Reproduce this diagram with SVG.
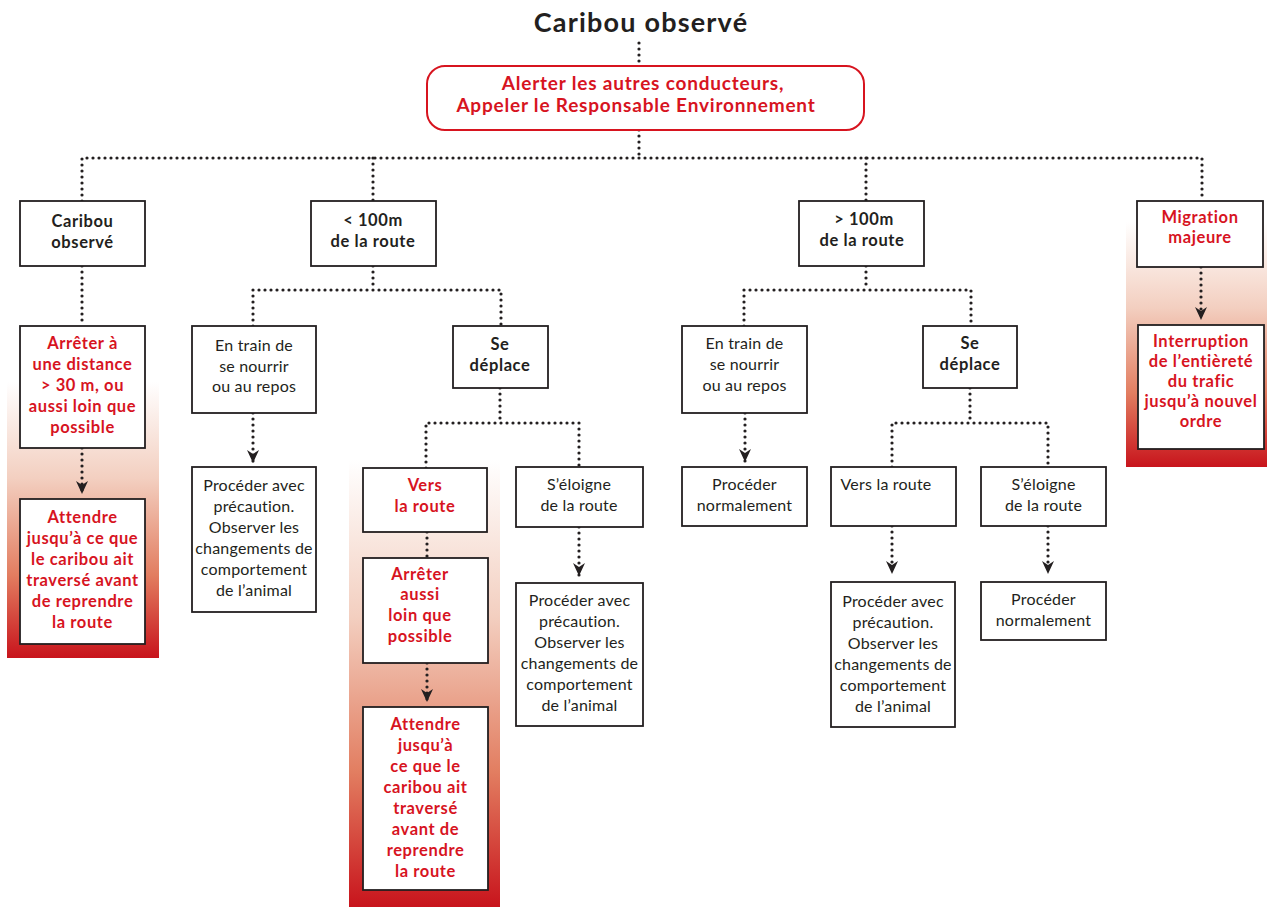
<svg xmlns="http://www.w3.org/2000/svg" width="1267" height="907" viewBox="0 0 1267 907">
<style>
.box{fill:#fff;stroke:#231f20;stroke-width:1.8}
.rbox{fill:#fff;stroke:#d7141f;stroke-width:2}
.t{font-family:Lato,"Open Sans","DejaVu Sans",sans-serif;font-size:16px;letter-spacing:0.2px;fill:#231f20;text-anchor:middle}
.b{font-weight:bold;font-size:16.5px;letter-spacing:0.6px}
.r{fill:#d7141f;font-weight:bold;font-size:16.5px;letter-spacing:0.6px}
.big{font-size:19px;letter-spacing:0.8px}
.dot{fill:none;stroke:#231f20;stroke-width:3.2;stroke-dasharray:0 6;stroke-linecap:round}
.arr{marker-end:url(#ah)}
</style>
<defs>
<linearGradient id="g" x1="0" y1="0" x2="0" y2="1">
<stop offset="0" stop-color="#ffffff"/>
<stop offset="0.35" stop-color="#f3cfc0"/>
<stop offset="0.7" stop-color="#e27d60"/>
<stop offset="1" stop-color="#c8141c"/>
</linearGradient>
<marker id="ah" markerUnits="userSpaceOnUse" viewBox="-1 -7 15 14" markerWidth="15" markerHeight="14" refX="13" refY="0" orient="auto">
<path d="M0,-6 L4,0 L0,6 L13,0 Z" fill="#231f20"/>
</marker>
</defs>

<g id="backgrounds">
<rect x="7" y="382" width="152" height="276" fill="url(#g)"/>
<rect x="349" y="460" width="151" height="447" fill="url(#g)"/>
<rect x="1126" y="222" width="141" height="245" fill="url(#g)"/>
</g>

<g id="connectors">
<path class="dot" d="M639,43 V66"/>
<path class="dot" d="M639,130 V158"/>
<path class="dot" d="M82,201 V158 H1202 V201"/>
<path class="dot" d="M373,158 V201"/>
<path class="dot" d="M866,158 V201"/>
<path class="dot" d="M82,266 V322"/>
<path class="dot arr" d="M82,448 V494"/>
<path class="dot arr" d="M1201,267 V320"/>
<path class="dot" d="M373,266 V290"/>
<path class="dot" d="M253,326 V290 H501 V326"/>
<path class="dot arr" d="M253,413 V463"/>
<path class="dot" d="M500,388 V423"/>
<path class="dot" d="M426,468 V423 H579 V467"/>
<path class="dot arr" d="M579,527 V576"/>
<path class="dot" d="M427,532 V558"/>
<path class="dot arr" d="M427,663 V702"/>
<path class="dot" d="M866,266 V290"/>
<path class="dot" d="M744,326 V290 H971 V326"/>
<path class="dot arr" d="M745,413 V462"/>
<path class="dot" d="M970,388 V423"/>
<path class="dot" d="M892,467 V423 H1048 V467"/>
<path class="dot arr" d="M892,526 V574"/>
<path class="dot arr" d="M1048,526 V574"/>
</g>

<g id="title">
<text class="t b" x="641" y="32" style="font-size:27px;letter-spacing:1.2px">Caribou observé</text>
</g>

<g id="alert">
<rect class="rbox" x="427" y="66" width="437" height="64" rx="18"/>
<text class="t r big" x="643" y="90">Alerter les autres conducteurs,</text>
<text class="t r big" x="636" y="112">Appeler le Responsable Environnement</text>
</g>

<g id="n-caribou">
<rect class="box" x="20" y="201" width="125" height="65"/>
<text class="t b" x="82.5" y="227">Caribou</text>
<text class="t b" x="82.5" y="248">observé</text>
</g>

<g id="n-arreter30">
<rect class="box" x="20" y="326" width="125" height="122"/>
<text class="t r" x="82.5" y="349">Arrêter à</text>
<text class="t r" x="82.5" y="370">une distance</text>
<text class="t r" x="82.5" y="391">&gt; 30 m, ou</text>
<text class="t r" x="82.5" y="412">aussi loin que</text>
<text class="t r" x="82.5" y="433">possible</text>
</g>

<g id="n-attendre1">
<rect class="box" x="20" y="499" width="125" height="145"/>
<text class="t r" x="82.5" y="523">Attendre</text>
<text class="t r" x="82.5" y="544">jusqu’à ce que</text>
<text class="t r" x="82.5" y="565">le caribou ait</text>
<text class="t r" x="82.5" y="586">traversé avant</text>
<text class="t r" x="82.5" y="607">de reprendre</text>
<text class="t r" x="82.5" y="628">la route</text>
</g>

<g id="n-lt100">
<rect class="box" x="311" y="201" width="125" height="65"/>
<text class="t b" x="373" y="226">&lt; 100m</text>
<text class="t b" x="373" y="247">de la route</text>
</g>

<g id="n-nourrir1">
<rect class="box" x="192" y="326" width="124" height="87"/>
<text class="t" x="254" y="351">En train de</text>
<text class="t" x="254" y="372">se nourrir</text>
<text class="t" x="254" y="392">ou au repos</text>
</g>

<g id="n-deplace1">
<rect class="box" x="453" y="326" width="95" height="62"/>
<text class="t b" x="500" y="350">Se</text>
<text class="t b" x="500" y="371">déplace</text>
</g>

<g id="n-precaution1">
<rect class="box" x="192" y="467" width="124" height="145"/>
<text class="t" x="254" y="491">Procéder avec</text>
<text class="t" x="254" y="512">précaution.</text>
<text class="t" x="254" y="533">Observer les</text>
<text class="t" x="254" y="554">changements de</text>
<text class="t" x="254" y="575">comportement</text>
<text class="t" x="254" y="596">de l’animal</text>
</g>

<g id="n-vers1">
<rect class="box" x="363" y="468" width="124" height="64"/>
<text class="t r" x="425" y="491">Vers</text>
<text class="t r" x="425" y="512">la route</text>
</g>

<g id="n-eloigne1">
<rect class="box" x="516" y="467" width="127" height="60"/>
<text class="t" x="579" y="490">S’éloigne</text>
<text class="t" x="579" y="511">de la route</text>
</g>

<g id="n-arreter2">
<rect class="box" x="363" y="558" width="125" height="105"/>
<text class="t r" x="420" y="580">Arrêter</text>
<text class="t r" x="420" y="600">aussi</text>
<text class="t r" x="420" y="621">loin que</text>
<text class="t r" x="420" y="642">possible</text>
</g>

<g id="n-attendre2">
<rect class="box" x="363" y="707" width="125" height="183"/>
<text class="t r" x="425.5" y="730">Attendre</text>
<text class="t r" x="425.5" y="751">jusqu’à</text>
<text class="t r" x="425.5" y="772">ce que le</text>
<text class="t r" x="425.5" y="793">caribou ait</text>
<text class="t r" x="425.5" y="814">traversé</text>
<text class="t r" x="425.5" y="835">avant de</text>
<text class="t r" x="425.5" y="856">reprendre</text>
<text class="t r" x="425.5" y="877">la route</text>
</g>

<g id="n-precaution2">
<rect class="box" x="516" y="583" width="127" height="143"/>
<text class="t" x="579.5" y="606">Procéder avec</text>
<text class="t" x="579.5" y="627">précaution.</text>
<text class="t" x="579.5" y="648">Observer les</text>
<text class="t" x="579.5" y="669">changements de</text>
<text class="t" x="579.5" y="690">comportement</text>
<text class="t" x="579.5" y="711">de l’animal</text>
</g>

<g id="n-gt100">
<rect class="box" x="799" y="201" width="125" height="65"/>
<text class="t b" x="864" y="225">&gt; 100m</text>
<text class="t b" x="862" y="246">de la route</text>
</g>

<g id="n-nourrir2">
<rect class="box" x="682" y="326" width="125" height="87"/>
<text class="t" x="744.5" y="349">En train de</text>
<text class="t" x="744.5" y="370">se nourrir</text>
<text class="t" x="744.5" y="391">ou au repos</text>
</g>

<g id="n-deplace2">
<rect class="box" x="923" y="326" width="94" height="62"/>
<text class="t b" x="970" y="349">Se</text>
<text class="t b" x="970" y="370">déplace</text>
</g>

<g id="n-normal1">
<rect class="box" x="682" y="467" width="125" height="59"/>
<text class="t" x="744.5" y="490">Procéder</text>
<text class="t" x="744.5" y="511">normalement</text>
</g>

<g id="n-vers2">
<rect class="box" x="831" y="467" width="125" height="59"/>
<text class="t" x="886" y="490">Vers la route</text>
</g>

<g id="n-eloigne2">
<rect class="box" x="981" y="467" width="125" height="59"/>
<text class="t" x="1043.5" y="490">S’éloigne</text>
<text class="t" x="1043.5" y="511">de la route</text>
</g>

<g id="n-precaution3">
<rect class="box" x="831" y="582" width="124" height="145"/>
<text class="t" x="893" y="607">Procéder avec</text>
<text class="t" x="893" y="628">précaution.</text>
<text class="t" x="893" y="649">Observer les</text>
<text class="t" x="893" y="670">changements de</text>
<text class="t" x="893" y="691">comportement</text>
<text class="t" x="893" y="712">de l’animal</text>
</g>

<g id="n-normal2">
<rect class="box" x="981" y="582" width="125" height="58"/>
<text class="t" x="1043.5" y="605">Procéder</text>
<text class="t" x="1043.5" y="626">normalement</text>
</g>

<g id="n-migration">
<rect class="box" x="1137" y="201" width="126" height="66"/>
<text class="t r" x="1200" y="223">Migration</text>
<text class="t r" x="1200" y="243">majeure</text>
</g>

<g id="n-interruption">
<rect class="box" x="1138" y="325" width="126" height="124"/>
<text class="t r" x="1201" y="347">Interruption</text>
<text class="t r" x="1201" y="367">de l’entièreté</text>
<text class="t r" x="1201" y="387">du trafic</text>
<text class="t r" x="1201" y="407">jusqu’à nouvel</text>
<text class="t r" x="1201" y="427">ordre</text>
</g>
</svg>
